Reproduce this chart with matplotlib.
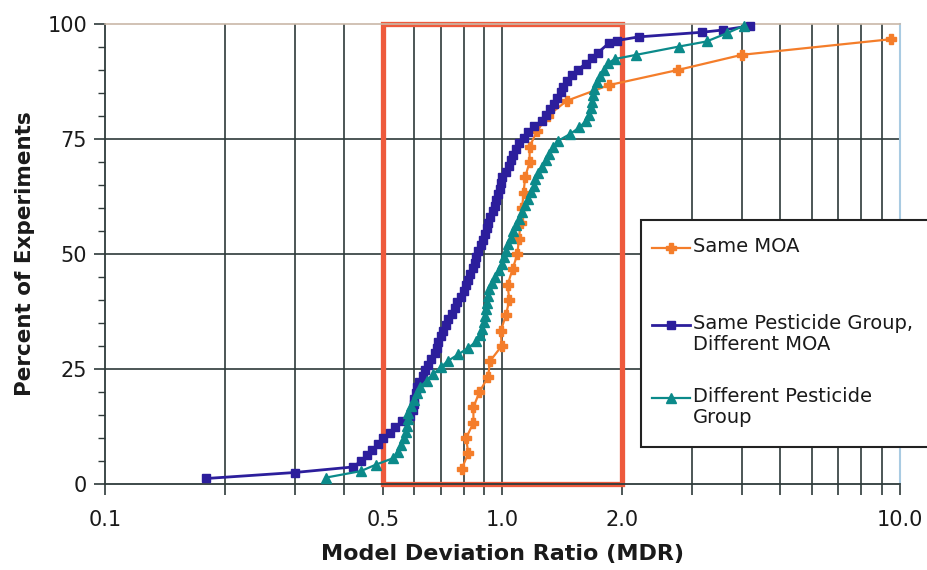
import matplotlib
matplotlib.use("Agg")
import matplotlib.pyplot as plt
from matplotlib.patches import Rectangle

plt.rcParams["font.family"] = ["DejaVu Sans"]

# -------------------------------
# Data
# -------------------------------

moa_x = [0.79, 0.82, 0.81, 0.845, 0.845, 0.875, 0.92, 0.93, 0.995, 0.99,
         1.02, 1.04, 1.03, 1.06, 1.09, 1.10, 1.11, 1.12, 1.13, 1.14,
         1.17, 1.17, 1.22, 1.30, 1.45, 1.85, 2.76, 4.0, 9.5]
moa_y = [3.3, 6.7, 10.0, 13.3, 16.7, 20.0, 23.3, 26.7, 30.0, 33.3,
         36.7, 40.0, 43.3, 46.7, 50.0, 53.3, 56.7, 60.0, 63.3, 66.7,
         70.0, 73.3, 76.7, 80.0, 83.3, 86.7, 90.0, 93.3, 96.7]

grp_x = [0.18, 0.30, 0.42, 0.44, 0.455, 0.47, 0.485, 0.50, 0.52, 0.535,
         0.56, 0.585, 0.595, 0.60, 0.60, 0.605, 0.61, 0.615, 0.63, 0.64,
         0.65, 0.66, 0.675, 0.685, 0.69, 0.70, 0.71, 0.72, 0.73, 0.745,
         0.76, 0.77, 0.785, 0.80, 0.81, 0.82, 0.83, 0.845, 0.855, 0.86,
         0.87, 0.885, 0.895, 0.905, 0.915, 0.92, 0.93, 0.945, 0.955, 0.965,
         0.975, 0.985, 0.99, 1.0, 1.02, 1.04, 1.05, 1.06, 1.08, 1.10,
         1.13, 1.16, 1.20, 1.26, 1.29, 1.32, 1.35, 1.37, 1.40, 1.42,
         1.45, 1.50, 1.55, 1.62, 1.68, 1.74, 1.85, 1.94, 2.2, 3.17,
         3.59, 4.2]
grp_y = [1.2, 2.5, 3.7, 4.9, 6.2, 7.4, 8.6, 9.9, 11.1, 12.3,
         13.6, 14.8, 16.0, 17.3, 18.5, 19.8, 21.0, 22.2, 23.5, 24.7,
         25.9, 27.2, 28.4, 29.6, 30.9, 32.1, 33.3, 34.6, 35.8, 37.0,
         38.3, 39.5, 40.7, 42.0, 43.2, 44.4, 45.7, 46.9, 48.1, 49.4,
         50.6, 51.9, 53.1, 54.3, 55.6, 56.8, 58.0, 59.3, 60.5, 61.7,
         63.0, 64.2, 65.4, 66.7, 67.9, 69.1, 70.4, 71.6, 72.8, 74.1,
         75.3, 76.5, 77.8, 79.0, 80.2, 81.5, 82.7, 84.0, 85.2, 86.4,
         87.7, 88.9, 90.1, 91.4, 92.6, 93.8, 95.8, 96.4, 97.2, 98.2,
         98.7, 99.6]

diff_x = [0.36, 0.44, 0.48, 0.53, 0.545, 0.555, 0.565, 0.572, 0.575, 0.578,
          0.58, 0.59, 0.60, 0.61, 0.62, 0.645, 0.67, 0.70, 0.73, 0.775,
          0.82, 0.86, 0.88, 0.89, 0.90, 0.905, 0.91, 0.915, 0.92, 0.925,
          0.94, 0.96, 0.98, 1.0, 1.01, 1.02, 1.03, 1.05, 1.06, 1.08,
          1.10, 1.12, 1.14, 1.16, 1.18, 1.20, 1.21, 1.23, 1.26, 1.29,
          1.31, 1.34, 1.38, 1.48, 1.56, 1.62, 1.65, 1.67, 1.68, 1.69,
          1.70, 1.73, 1.76, 1.80, 1.84, 1.92, 2.17, 2.78, 3.26, 3.67,
          4.04]
diff_y = [1.4, 2.8, 4.2, 5.6, 7.0, 8.5, 9.9, 11.3, 12.7, 14.1,
          15.5, 16.9, 18.3, 19.7, 21.1, 22.5, 23.9, 25.4, 26.8, 28.2,
          29.6, 31.0, 32.4, 33.8, 35.2, 36.6, 38.0, 39.4, 40.8, 42.3,
          43.7, 45.1, 46.5, 47.9, 49.3, 50.7, 52.1, 53.5, 54.9, 56.3,
          57.7, 59.2, 60.6, 62.0, 63.4, 64.8, 66.2, 67.6, 69.0, 70.4,
          71.8, 73.2, 74.6, 76.1, 77.5, 78.9, 80.3, 81.7, 83.1, 84.5,
          85.9, 87.3, 88.7, 90.1, 91.5, 92.4, 93.3, 95.1, 96.2, 98.0,
          99.6]

x_ticks = [0.1, 0.2, 0.3, 0.4, 0.5, 0.6, 0.7, 0.8, 0.9, 1.0,
           2.0, 3.0, 4.0, 5.0, 6.0, 7.0, 8.0, 9.0, 10.0]
x_labelled = {0.1: "0.1", 0.5: "0.5", 1.0: "1.0", 2.0: "2.0", 10.0: "10.0"}
y_ticks = [0, 25, 50, 75, 100]
box_range = (0.5, 2.0)

series_labels = ["Same MOA",
                 "Same Pesticide Group,\nDifferent MOA",
                 "Different Pesticide\nGroup"]

orange = "#F47D2A"
blue = "#2C1E9C"
teal = "#0B8A8A"
red = "#EE5A3C"
grid_c = "#2E3A3A"

styles = [
    dict(color=orange, lw=1.6, marker="P", ms=6.5, zorder=3),
    dict(color=blue, lw=2.0, marker="s", ms=6, zorder=4),
    dict(color=teal, lw=1.6, marker="^", ms=6.5, zorder=5),
]

# -------------------------------
# Figure
# -------------------------------

fig = plt.figure(figsize=(9.28, 5.70), dpi=100)
ax = fig.add_axes([105 / 928, 1 - 484 / 570, 795 / 928, 460 / 570])

ax.set_xscale("log")
ax.set_xlim(0.1, 10.0)
ax.set_ylim(0, 100)

# grid
for xv in x_ticks[1:-1]:
    ax.axvline(xv, color=grid_c, lw=1.2, zorder=1)
for yv in y_ticks[1:-1]:
    ax.axhline(yv, color=grid_c, lw=1.2, zorder=1)

# red box
ax.add_patch(Rectangle((box_range[0], 0), box_range[1] - box_range[0], 100,
                       fill=False, edgecolor=red, lw=3.8, zorder=2,
                       clip_on=False))

for (xs, ys), st in zip([(moa_x, moa_y), (grp_x, grp_y), (diff_x, diff_y)],
                        styles):
    ax.plot(xs, ys, mec=st["color"], mfc=st["color"], clip_on=False, **st)

# spines
ax.spines["left"].set_color(grid_c)
ax.spines["left"].set_linewidth(1.3)
ax.spines["bottom"].set_color(grid_c)
ax.spines["bottom"].set_linewidth(1.3)
ax.spines["top"].set_color("#C9B8A8")
ax.spines["top"].set_linewidth(1.2)
ax.spines["right"].set_color("#A9CBE2")
ax.spines["right"].set_linewidth(1.5)

# ticks
ax.xaxis.set_minor_locator(plt.NullLocator())
ax.set_xticks(x_ticks)
ax.set_xticklabels([x_labelled.get(t, "") for t in x_ticks])
ax.tick_params(axis="x", direction="out", length=8, width=1.2,
               color=grid_c, labelsize=15, pad=11, labelcolor="#1a1a1a")
ax.set_yticks(y_ticks)
ax.set_yticks(range(0, 101, 5), minor=True)
ax.tick_params(axis="y", which="major", direction="out", length=8,
               width=1.2, color=grid_c, labelsize=15, pad=5,
               labelcolor="#1a1a1a")
ax.tick_params(axis="y", which="minor", direction="out", length=5,
               width=1.0, color=grid_c)

ax.set_xlabel("Model Deviation Ratio (MDR)", fontsize=16, fontweight="bold",
              labelpad=10, color="#1a1a1a")
ax.set_ylabel("Percent of Experiments", fontsize=15.5, fontweight="bold",
              labelpad=9, color="#1a1a1a")

# -------------------------------
# Legend (drawn on a pixel overlay)
# -------------------------------

lax = fig.add_axes([0, 0, 1, 1], zorder=10)
lax.set_xlim(0, 928)
lax.set_ylim(570, 0)
lax.axis("off")

lax.add_patch(Rectangle((641, 220), 300, 227, facecolor="white",
                        edgecolor="#222222", lw=1.5, clip_on=False))

row_y = [248, 325, 398]
for lab, yy, st in zip(series_labels, row_y, styles):
    lax.plot([652, 690], [yy, yy], color=st["color"], lw=st["lw"])
    lax.plot([671], [yy], color=st["color"], marker=st["marker"],
             ms=st["ms"], mec=st["color"], mfc=st["color"])
    lax.text(693, yy - 11, lab, fontsize=14, va="top", ha="left",
             color="#1a1a1a", linespacing=1.15)

fig.savefig("out.png", dpi=100)
